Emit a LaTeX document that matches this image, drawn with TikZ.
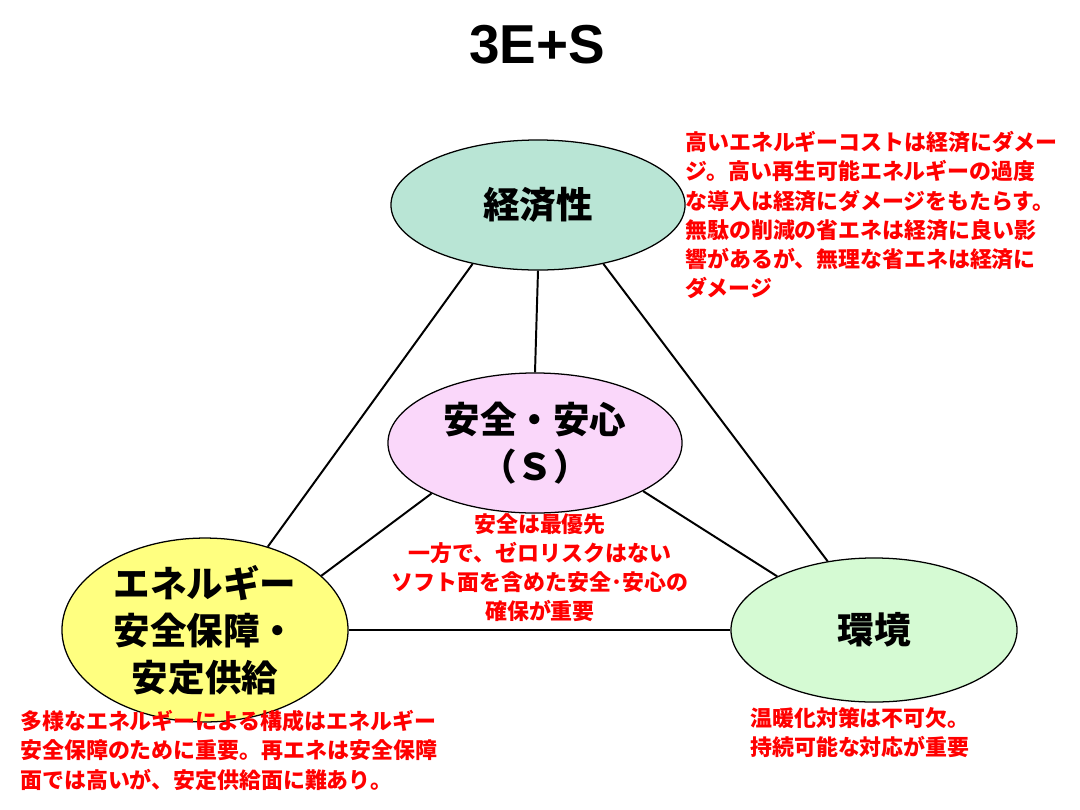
\documentclass[tikz,border=0pt]{standalone}
\usepackage{fontspec}
\setmainfont{Liberation Sans}
\newfontfamily\jpfont{Noto Sans CJK JP}
\usetikzlibrary{shapes.geometric,positioning}
\definecolor{ecofill}{HTML}{B9E5D5}
\definecolor{saffill}{HTML}{FAD7FA}
\definecolor{enefill}{HTML}{FFFF80}
\definecolor{envfill}{HTML}{D5FAD3}
\definecolor{notered}{HTML}{FF0000}
\tikzset{
  topic/.style={ellipse, draw=black, line width=0.9pt, inner sep=0pt, align=center,
    font=\jpfont\bfseries\fontsize{26}{33.5}\selectfont},
  note/.style={text=notered, inner sep=0pt, font=\jpfont\bfseries\fontsize{15.6}{20.8}\selectfont},
  link/.style={line width=1.4pt}
}
\begin{document}
\begin{tikzpicture}[x=0.025cm, y=-0.025cm]
	\useasboundingbox (0,0) rectangle (1080,810);
	\node[font=\bfseries\fontsize{39}{44}\selectfont] (title) at (537,45) {3E+S};
	
	\node[topic, fill=ecofill, minimum width=7.35cm, minimum height=3.25cm] (eco) at (538,205) {経済性};
	\node[topic, fill=saffill, minimum width=7.35cm, minimum height=3.5cm] (saf) at (535,443) {安全・安心\\（Ｓ）};
	\node[topic, fill=enefill, minimum width=7.15cm, minimum height=3.75cm] (ene) at (205,630) {エネルギー\\安全保障・\\安定供給};
	\node[topic, fill=envfill, minimum width=7.15cm, minimum height=3.6cm] (env) at (874,630) {環境};
	
	\draw[link] (eco.222) -- (ene.53);
	\draw[link] (eco.270) -- (saf.90);
	\draw[link] (eco.318) -- (env.124);
	\draw[link] (saf.206) -- (ene.25);
	\draw[link] (saf.336) -- (env.151);
	\draw[link] (ene.0) -- (env.180);
	
	\node[note, anchor=north west, align=left] (econote) at (685,131) {高いエネルギーコストは経済にダメー\\ジ。高い再生可能エネルギーの過度\\な導入は経済にダメージをもたらす。\\無駄の削減の省エネは経済に良い影\\響があるが、無理な省エネは経済に\\ダメージ};
	\node[note, anchor=north, align=center] (safnote) at (540,513) {安全は最優先\\一方で、ゼロリスクはない\\ソフト面を含めた安全･安心の\\確保が重要};
	\node[note, anchor=north west, align=left] (enenote) at (20,710) {多様なエネルギーによる構成はエネルギー\\安全保障のために重要。再エネは安全保障\\面では高いが、安定供給面に難あり。};
	\node[note, anchor=north west, align=left] (envnote) at (750,707) {温暖化対策は不可欠。\\持続可能な対応が重要};
\end{tikzpicture}
\end{document}
